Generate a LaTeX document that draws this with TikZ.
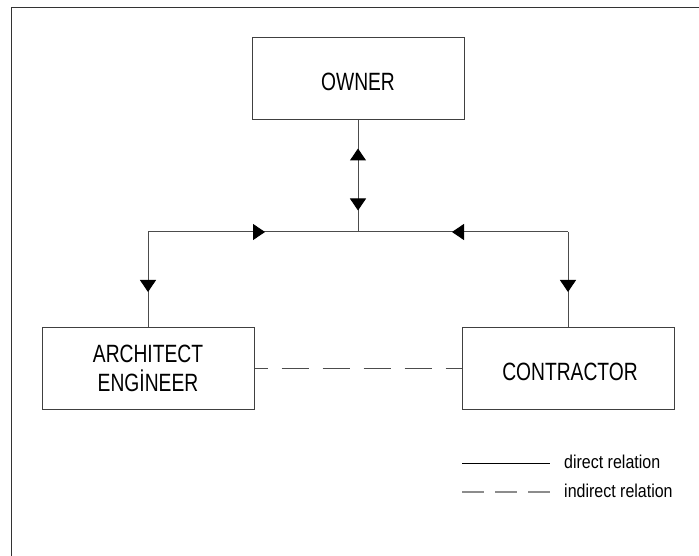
\documentclass[tikz,border=0pt]{standalone}
\usepackage{fontspec}
\setmainfont{Liberation Sans}
\newfontfamily\boxfont{Liberation Sans}[FakeStretch=0.77]
\newfontfamily\legfont{Liberation Sans}[FakeStretch=0.86]
\usetikzlibrary{arrows.meta,decorations.markings}
\tikzset{
  party/.style={draw=black!75, line width=1pt, minimum width=212pt, minimum height=82pt, inner sep=0pt},
  partytext/.style={inner sep=0pt, align=center, font=\boxfont\fontsize{25}{29}\selectfont},
  conn/.style={draw=black!70, line width=1pt},
  tri/.tip={Triangle[width=16pt,length=12pt,color=black]},
  legtext/.style={anchor=west, inner sep=0pt, font=\legfont\fontsize{18.6}{20}\selectfont}
}
\begin{document}
\begin{tikzpicture}[x=1pt,y=-1pt]
\useasboundingbox (0,0) rectangle (699,556);
% frame (top and left edges only)
\draw[black!80, line width=1.5pt] (11.5,556) -- (11.5,7.5) -- (699,7.5);

\node[party] (owner) at (358,79) {};
\node[partytext] (ownert) at (358,82) {OWNER};
\node[party] (arch) at (148,368) {};
\node[partytext] (archt) at (148,368) {ARCHITECT\\ENGİNEER};
\node[party] (contr) at (568,368) {};
\node[partytext] (contrt) at (570,372) {CONTRACTOR};

\coordinate (J) at (358,232);
\coordinate (L) at (148,232);
\coordinate (R) at (568,232);

\draw[conn, postaction={decorate}, decoration={markings,
   mark=at position 28pt with {\arrowreversed{tri}},
   mark=at position 90pt with {\arrow{tri}}}] (owner.south) -- (J);
\draw[conn, postaction={decorate}, decoration={markings,
   mark=at position 117pt with {\arrow{tri}},
   mark=at position 304pt with {\arrowreversed{tri}}}] (L) -- (R);
\draw[conn, postaction={decorate}, decoration={markings,
   mark=at position 60pt with {\arrow{tri}}}] (L) -- (arch.north);
\draw[conn, postaction={decorate}, decoration={markings,
   mark=at position 60pt with {\arrow{tri}}}] (R) -- (contr.north);

\draw[conn, dash pattern=on 27pt off 14pt, dash phase=14pt] (arch.east) -- (contr.west);

% legend
\coordinate (l1a) at (462,463);
\coordinate (l1b) at (550,463);
\coordinate (l2a) at (462,492);
\coordinate (l2b) at (550,492);
\draw[black, line width=1pt] (l1a) -- (l1b);
\draw[black!45, line width=1.2pt, dash pattern=on 22pt off 11pt] (l2a) -- (l2b);
\node[legtext] (lt1) at (564,462) {direct relation};
\node[legtext] (lt2) at (564,491) {indirect relation};
\end{tikzpicture}
\end{document}
